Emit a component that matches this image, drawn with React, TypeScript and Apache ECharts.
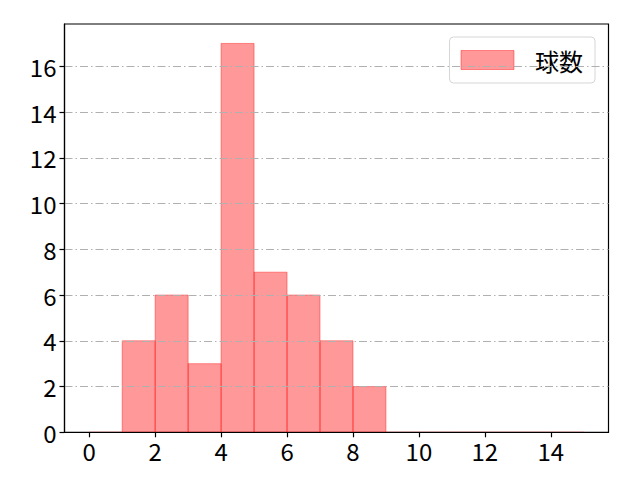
import * as echarts from 'echarts';
import React, { useEffect, useRef } from 'react';

// 히스토그램 구간 경계와 도수
const binEdges = [0, 1, 2, 3, 4, 5, 6, 7, 8, 9, 10, 11, 12, 13, 14, 15];
const counts = [0, 4, 6, 3, 17, 7, 6, 4, 2, 0, 0, 0, 0, 0, 0];
const xTicks = [0, 2, 4, 6, 8, 10, 12, 14];
const yTicks = [0, 2, 4, 6, 8, 10, 12, 14, 16];
const seriesName = '球数';

const FONT = '"Noto Sans CJK JP", "DejaVu Sans", sans-serif';
const FILL = 'rgba(255, 0, 0, 0.4)';

const App = () => {
  const chartRef = useRef<HTMLDivElement>(null);

  useEffect(() => {
    if (!chartRef.current) return;
    const chart = echarts.init(chartRef.current, null, { renderer: 'svg' });

    const data = counts.map((c, i) => [binEdges[i], binEdges[i + 1], c]);

    chart.setOption({
      animation: false,
      backgroundColor: '#fff',
      grid: {
        left: 64.5,
        right: 31.5,
        top: 24,
        bottom: 47.7,
        show: true,
        borderColor: '#000',
        borderWidth: 1.2,
      },
      legend: {
        data: [
          {
            name: seriesName,
            icon: 'rect',
            itemStyle: { color: FILL, borderColor: FILL, borderWidth: 1 },
          },
        ],
        right: 45,
        top: 37,
        itemWidth: 53,
        itemHeight: 19,
        padding: [11, 12, 11, 11],
        borderColor: '#d6d6d6',
        borderWidth: 1,
        borderRadius: 4,
        backgroundColor: 'rgba(255,255,255,0.8)',
        textStyle: {
          fontFamily: FONT,
          fontSize: 24,
          color: '#000',
          padding: [0, 0, 0, 16],
        },
      },
      xAxis: {
        type: 'value',
        min: -0.75,
        max: 15.75,
        z: 5,
        axisLine: { show: true, onZero: false, lineStyle: { color: '#000', width: 1.2 } },
        axisTick: {
          show: true,
          length: 5,
          lineStyle: { color: '#000', width: 1.2 },
          customValues: xTicks,
        },
        axisLabel: {
          customValues: xTicks,
          color: '#000',
          fontFamily: FONT,
          fontSize: 24,
          margin: 6,
        },
        splitLine: { show: false },
      },
      yAxis: {
        type: 'value',
        min: 0,
        max: 17.85,
        interval: 2,
        z: 5,
        axisLine: { show: true, onZero: false, lineStyle: { color: '#000', width: 1.2 } },
        axisTick: {
          show: true,
          length: 5,
          lineStyle: { color: '#000', width: 1.2 },
          customValues: yTicks,
        },
        axisLabel: {
          customValues: yTicks,
          color: '#000',
          fontFamily: FONT,
          fontSize: 24,
          margin: 8,
        },
        splitLine: {
          show: true,
          showMinLine: false,
          showMaxLine: true,
          lineStyle: { color: '#b0b0b0', width: 1, type: [8, 3, 1.5, 3] },
        },
      },
      series: [
        {
          name: seriesName,
          type: 'custom',
          z: 2,
          itemStyle: { color: FILL, borderColor: FILL },
          encode: { x: [0, 1], y: 2 },
          data,
          renderItem: (params: any, api: any) => {
            const p0 = api.coord([api.value(0), api.value(2)]);
            const p1 = api.coord([api.value(1), 0]);
            return {
              type: 'rect',
              shape: { x: p0[0], y: p0[1], width: p1[0] - p0[0], height: p1[1] - p0[1] },
              style: { fill: FILL, stroke: FILL, lineWidth: 1 },
            };
          },
        },
      ],
    });

    return () => chart.dispose();
  }, []);

  return (
    <div
      ref={chartRef}
      style={{ position: 'fixed', left: 0, top: 0, width: 640, height: 480 }}
    />
  );
};

export default App;
